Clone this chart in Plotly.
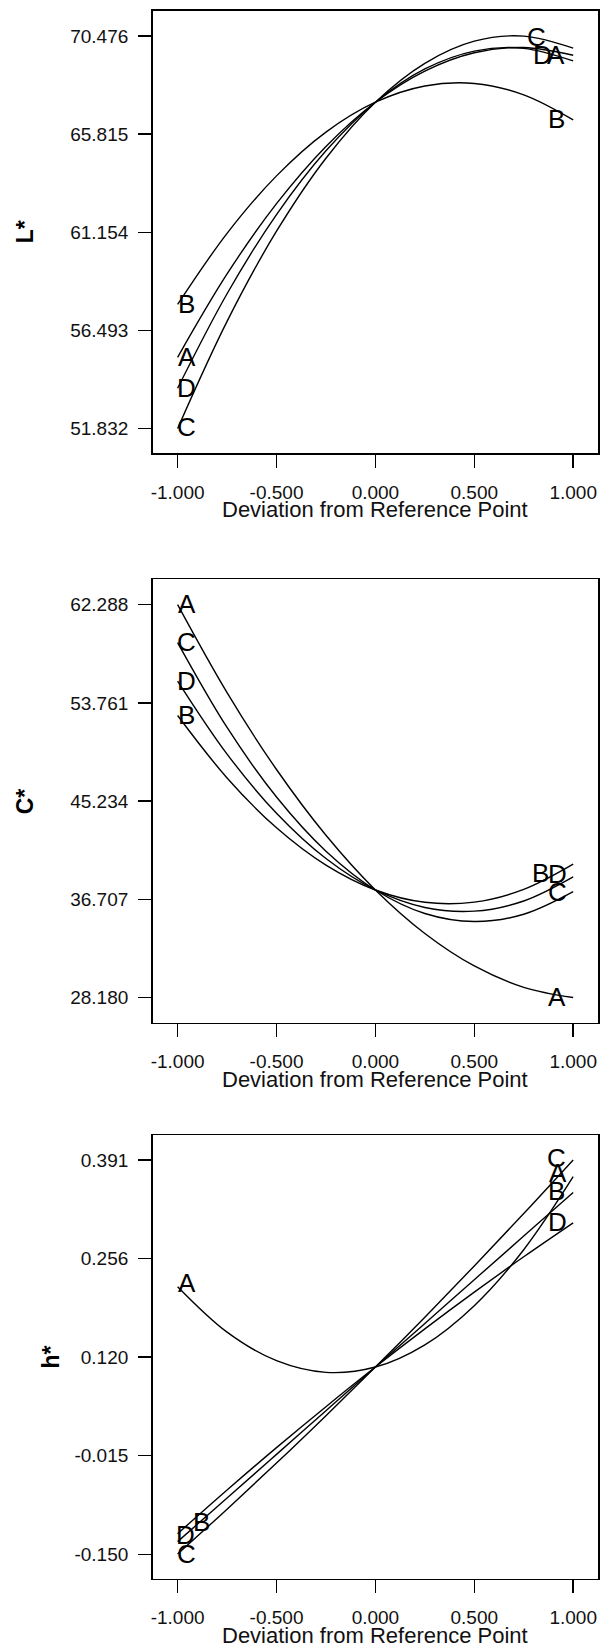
import plotly.graph_objects as go

# ---------------- data ----------------
x_dev = [-1.0, -0.75, -0.5, -0.25, 0.0, 0.25, 0.5, 0.75, 1.0]

L_A = [55.21, 59.17, 62.51, 65.23, 67.33, 68.81, 69.68, 69.93, 69.56]
L_B = [57.72, 61.10, 63.83, 65.91, 67.33, 68.10, 68.22, 67.68, 66.49]
L_C = [51.83, 56.92, 61.20, 64.67, 67.33, 69.18, 70.23, 70.47, 69.90]
L_D = [53.74, 58.23, 61.99, 65.02, 67.33, 68.91, 69.76, 69.89, 69.29]

C_A = [62.29, 54.65, 47.98, 42.27, 37.52, 33.74, 30.92, 29.07, 28.18]
C_B = [52.67, 47.25, 42.92, 39.68, 37.52, 36.45, 36.47, 37.57, 39.76]
C_C = [59.00, 51.63, 45.59, 40.89, 37.52, 35.48, 34.78, 35.41, 37.37]
C_D = [55.66, 49.32, 44.18, 40.25, 37.52, 36.00, 35.68, 36.56, 38.65]

H_A = [0.2170, 0.1546, 0.1154, 0.0994, 0.1067, 0.1372, 0.1910, 0.2678, 0.3680]
H_B = [-0.1330, -0.0731, -0.0132, 0.0468, 0.1067, 0.1666, 0.2266, 0.2865, 0.3464]
H_C = [-0.1500, -0.0884, -0.0251, 0.0400, 0.1067, 0.1752, 0.2455, 0.3174, 0.3910]
H_D = [-0.1221, -0.0621, -0.0039, 0.0523, 0.1067, 0.1591, 0.2095, 0.2581, 0.3047]

x_tickvals = [-1.0, -0.5, 0.0, 0.5, 1.0]
x_ticktext = ["-1.000", "-0.500", "0.000", "0.500", "1.000"]

L_tickvals = [51.832, 56.493, 61.154, 65.815, 70.476]
L_ticktext = ["51.832", "56.493", "61.154", "65.815", "70.476"]
C_tickvals = [28.180, 36.707, 45.234, 53.761, 62.288]
C_ticktext = ["28.180", "36.707", "45.234", "53.761", "62.288"]
H_tickvals = [-0.1503, -0.0150, 0.1203, 0.2556, 0.3909]
H_ticktext = ["-0.150", "-0.015", "0.120", "0.256", "0.391"]

series_names = ["A", "B", "C", "D"]

# curve-label anchor points (data units)
L_lab_text = ["B", "A", "D", "C", "C", "D", "A", "B"]
L_lab_x = [-0.955, -0.955, -0.955, -0.955, 0.817, 0.843, 0.915, 0.915]
L_lab_y = [57.72, 55.21, 53.74, 51.88, 70.41, 69.56, 69.56, 66.55]

C_lab_text = ["A", "C", "D", "B", "B", "D", "C", "A"]
C_lab_x = [-0.955, -0.955, -0.955, -0.955, 0.833, 0.921, 0.921, 0.917]
C_lab_y = [62.35, 59.01, 55.66, 52.68, 39.01, 38.95, 37.37, 28.27]

H_lab_text = ["A", "B", "D", "C", "C", "A", "B", "D"]
H_lab_x = [-0.955, -0.880, -0.959, -0.955, 0.915, 0.921, 0.915, 0.921]
H_lab_y = [0.2218, -0.1066, -0.1235, -0.1498, 0.3944, 0.3728, 0.3479, 0.3057]

y_titles = ["L*", "C*", "h*"]
x_title = "Deviation from Reference Point"

# ---------------- figure ----------------
W, H = 609, 1648
FONT = "Liberation Sans, Arial, Helvetica, sans-serif"
LW = 1.4

box_left, box_right = 152.5, 598.3
panels = [  # (top px, bottom px, y range, y title x px)
    (10.7, 453.3, [50.649, 71.678], 25.3),
    (578.9, 1023.0, [25.97, 64.53], 25.3),
    (1135.0, 1579.0, [-0.1843, 0.4253], 50.6),
]

fig = go.Figure()

curve_sets = [
    [L_A, L_B, L_C, L_D],
    [C_A, C_B, C_C, C_D],
    [H_A, H_B, H_C, H_D],
]
ytick_sets = [(L_tickvals, L_ticktext), (C_tickvals, C_ticktext), (H_tickvals, H_ticktext)]
label_sets = [
    (L_lab_text, L_lab_x, L_lab_y),
    (C_lab_text, C_lab_x, C_lab_y),
    (H_lab_text, H_lab_x, H_lab_y),
]

annotations = []
for i, (curves, (tv, tt), (lt, lx, ly), (top, bot, yr, ytx)) in enumerate(
        zip(curve_sets, ytick_sets, label_sets, panels)):
    n = "" if i == 0 else str(i + 1)
    xa, ya = "x" + n, "y" + n
    for name, ys in zip(series_names, curves):
        fig.add_trace(go.Scatter(
            x=x_dev, y=ys, mode="lines", name=name,
            line=dict(color="black", width=LW, shape="spline", smoothing=1.0),
            xaxis=xa, yaxis=ya, showlegend=False, hoverinfo="skip"))
    dom = [1 - bot / H, 1 - top / H]
    axis_common = dict(
        showline=True, mirror=True, linecolor="black", linewidth=LW,
        ticks="outside", ticklen=13, tickwidth=LW, tickcolor="black",
        showgrid=False, zeroline=False, automargin=False,
        tickfont=dict(family=FONT, size=19, color="#111111"),
    )
    fig.update_layout(**{
        "xaxis" + n: dict(
            domain=[box_left / W, box_right / W], range=[-1.127, 1.127],
            tickmode="array", tickvals=x_tickvals, ticktext=x_ticktext,
            anchor=ya, ticklabelstandoff=8, **axis_common),
        "yaxis" + n: dict(
            domain=dom, range=yr, tickmode="array", tickvals=tv, ticktext=tt,
            anchor=xa, ticklabelstandoff=6, **axis_common),
    })
    for t, x, y in zip(lt, lx, ly):
        annotations.append(dict(
            text=t, x=x, y=y, xref=xa, yref=ya, showarrow=False,
            xanchor="center", yanchor="middle",
            font=dict(family=FONT, size=26, color="black")))
    annotations.append(dict(
        text="<b>" + y_titles[i] + "</b>", x=ytx / W, y=(dom[0] + dom[1]) / 2,
        xref="paper", yref="paper", showarrow=False, textangle=-90,
        xanchor="center", yanchor="middle",
        font=dict(family=FONT, size=23, color="black")))
    annotations.append(dict(
        text=x_title, x=0.0, y=1 - (bot + 56) / H, xref=xa, yref="paper",
        showarrow=False, xanchor="center", yanchor="middle",
        font=dict(family=FONT, size=22, color="#111111")))

fig.update_layout(
    width=W, height=H, margin=dict(l=0, r=0, t=0, b=0),
    paper_bgcolor="white", plot_bgcolor="white",
    annotations=annotations, showlegend=False,
    font=dict(family=FONT, color="black"),
)

fig.write_html(
    "out.html",
    config={"displayModeBar": False, "staticPlot": True},
    post_script="document.body.style.margin='0';document.body.style.padding='0';"
                "document.documentElement.style.overflow='hidden';",
)
